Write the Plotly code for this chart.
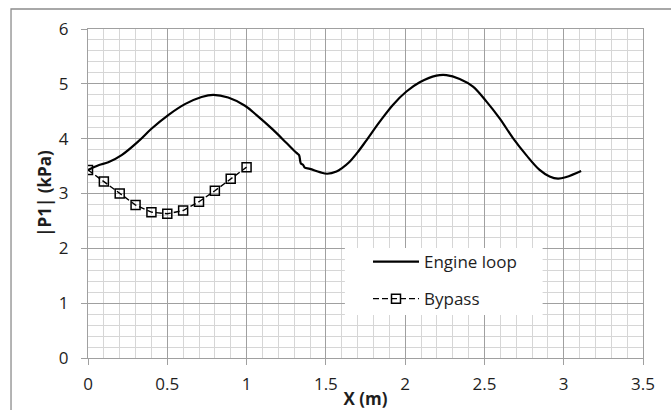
import plotly.graph_objects as go

# Engine loop pressure amplitude along the loop
engine_x = [0.0, 0.023, 0.07, 0.128, 0.212, 0.317, 0.40, 0.506, 0.611, 0.716, 0.79, 0.884,
            0.99, 1.063, 1.168, 1.252, 1.315, 1.331, 1.342, 1.357, 1.367, 1.399, 1.462,
            1.508, 1.567, 1.60, 1.65, 1.70, 1.756, 1.84, 1.924, 2.008, 2.092, 2.197, 2.26,
            2.344, 2.428, 2.512, 2.596, 2.68, 2.764, 2.848, 2.911, 2.964, 3.016, 3.11]
engine_y = [3.43, 3.46, 3.52, 3.57, 3.70, 3.95, 4.18, 4.43, 4.63, 4.76, 4.80, 4.75,
            4.60, 4.43, 4.16, 3.92, 3.74, 3.70, 3.55, 3.52, 3.47, 3.45, 3.39,
            3.36, 3.40, 3.46, 3.58, 3.75, 3.97, 4.31, 4.62, 4.86, 5.03, 5.15, 5.16,
            5.09, 4.95, 4.68, 4.37, 4.01, 3.70, 3.43, 3.31, 3.27, 3.30, 3.41]

# Bypass pressure amplitude
bypass_x = [0.0, 0.1, 0.2, 0.3, 0.4, 0.5, 0.6, 0.7, 0.8, 0.9, 1.0]
bypass_y = [3.43, 3.22, 3.00, 2.79, 2.66, 2.63, 2.69, 2.85, 3.05, 3.27, 3.48]

x_ticks = [0, 0.5, 1, 1.5, 2, 2.5, 3, 3.5]
x_tick_text = ["0", "0.5", "1", "1.5", "2", "2.5", "3", "3.5"]
y_ticks = [0, 1, 2, 3, 4, 5, 6]

FONT = "Open Sans"
TEXT = "#1e1e1e"
MAJOR = "#a0a0a0"
MINOR = "#d6d6d6"

fig = go.Figure()
fig.add_trace(go.Scatter(
    x=engine_x, y=engine_y, mode="lines", name="Engine loop",
    line=dict(color="black", width=2.2, shape="spline", smoothing=1.0),
    legendgroup="a",
))
fig.add_trace(go.Scatter(
    x=bypass_x, y=bypass_y, mode="lines+markers", name="Bypass",
    line=dict(color="black", width=1.4, dash="6px,3px"),
    marker=dict(symbol="square-open", size=9, color="black",
                line=dict(width=1.5, color="black")),
    legendgroup="b",
))

fig.update_layout(
    width=671, height=410,
    margin=dict(l=88, r=28, t=29, b=52),
    paper_bgcolor="white", plot_bgcolor="white",
    font=dict(family=FONT, size=17, color=TEXT),
    showlegend=True,
    legend=dict(
        x=0.5045, y=0.3465, xanchor="left", yanchor="top",
        bgcolor="rgba(0,0,0,0)", borderwidth=0,
        font=dict(family=FONT, size=17, color=TEXT),
        tracegroupgap=12, itemwidth=46,
    ),
    xaxis=dict(
        range=[0, 3.5], tickvals=x_ticks, ticktext=x_tick_text,
        showgrid=True, gridcolor=MAJOR, gridwidth=1,
        minor=dict(dtick=0.1, showgrid=True, gridcolor=MINOR, gridwidth=1),
        showline=True, linecolor=MAJOR, mirror=True,
        ticks="outside", ticklen=6, tickcolor=MAJOR,
        ticklabelstandoff=5,
        zeroline=False, automargin=False,
        title=dict(text="<b>X (m)</b>", standoff=0,
                   font=dict(family=FONT, size=17, color=TEXT)),
    ),
    yaxis=dict(
        range=[0, 6], tickvals=y_ticks,
        showgrid=True, gridcolor=MAJOR, gridwidth=1,
        minor=dict(dtick=0.2, showgrid=True, gridcolor=MINOR, gridwidth=1),
        showline=True, linecolor=MAJOR, mirror=True,
        ticks="outside", ticklen=6, tickcolor=MAJOR,
        ticklabelstandoff=9,
        zeroline=False, automargin=False,
        title=dict(text="<b>|P1| (kPa)</b>", standoff=2,
                   font=dict(family=FONT, size=17, color=TEXT)),
    ),
    shapes=[
        # chart frame
        dict(type="rect", xref="paper", yref="paper",
             x0=-0.1387, x1=1.08, y0=-0.2, y1=1.0608,
             line=dict(color="#8c8c8c", width=1.3), fillcolor="rgba(0,0,0,0)",
             layer="below"),
        # white legend panel over the grid
        dict(type="rect", xref="x", yref="y",
             x0=1.62, x1=2.867, y0=0.784, y1=2.006,
             line=dict(width=0), fillcolor="white", layer="between"),
    ],
)

fig.write_html("out.html")
